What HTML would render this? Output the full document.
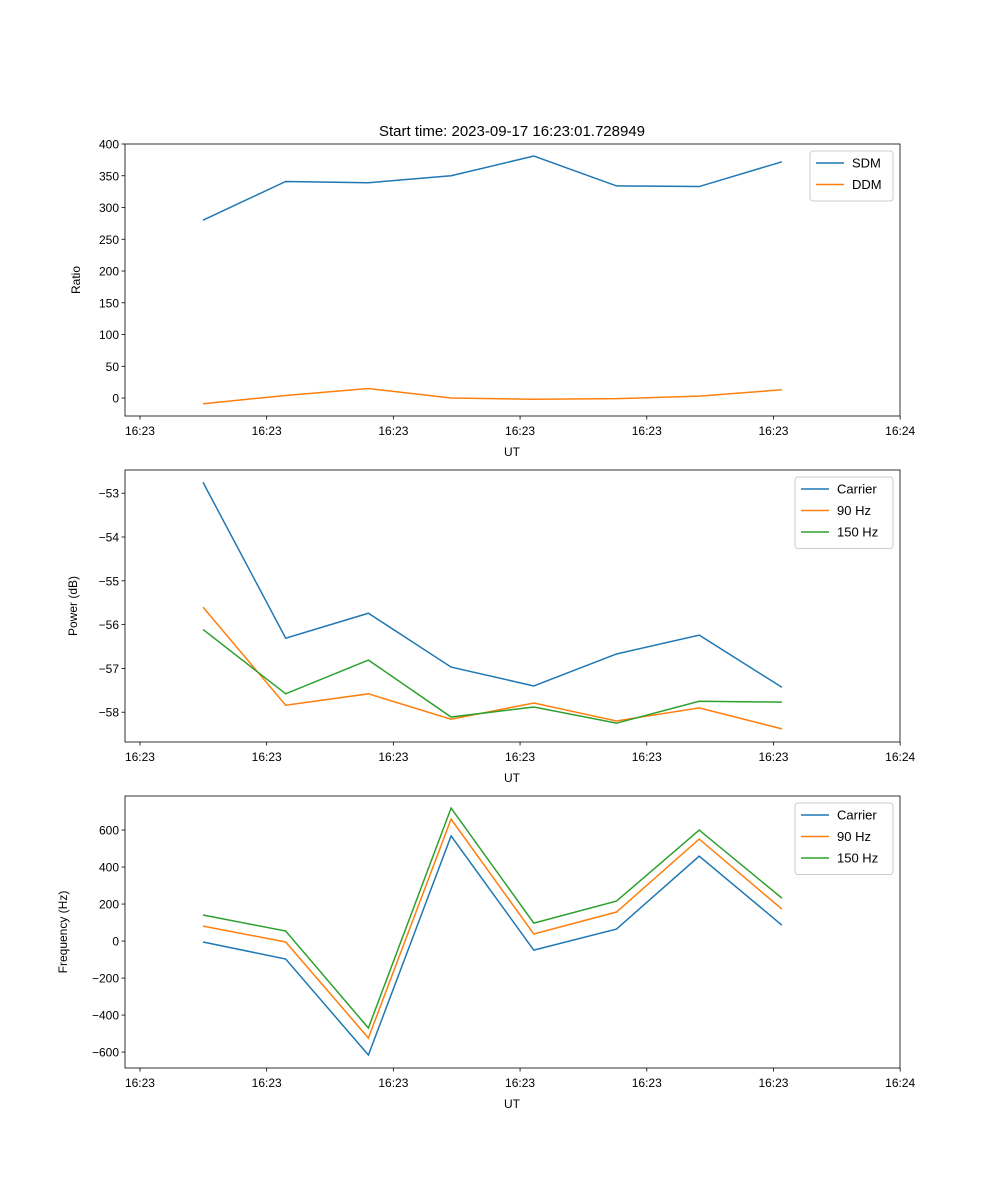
<!DOCTYPE html>
<html><head><meta charset="utf-8"><style>
body{margin:0;background:#fff;}
svg{display:block;font-family:"Liberation Sans","DejaVu Sans",sans-serif;}
</style></head><body>
<svg id="fig" width="1000" height="1200" xmlns="http://www.w3.org/2000/svg">
<rect width="1000" height="1200" fill="#fff"/>
<text x="512" y="136" text-anchor="middle" font-size="15">Start time: 2023-09-17 16:23:01.728949</text>
</svg>
<script>
const xTickVals = [-0.762, 0.770, 2.302, 3.834, 5.366, 6.898, 8.43];
const xTickLabels = ["16:23","16:23","16:23","16:23","16:23","16:23","16:24"];
const sdm = [280, 341, 339, 350, 381, 334, 333, 372];
const ddm = [-9, 4, 15, 0, -2, -1, 3, 13];
const powCarrier = [-52.75, -56.31, -55.74, -56.97, -57.40, -56.67, -56.24, -57.43];
const pow90 = [-55.60, -57.84, -57.58, -58.16, -57.79, -58.20, -57.90, -58.38];
const pow150 = [-56.11, -57.58, -56.81, -58.11, -57.88, -58.25, -57.75, -57.77];
const freqCarrier = [-5, -97, -616, 568, -49, 65, 459, 86];
const freq90 = [81, -5, -524, 659, 38, 157, 551, 173];
const freq150 = [141, 54, -470, 719, 97, 216, 600, 232];
const ratioTicks = [0,50,100,150,200,250,300,350,400];
const powTicks = [-58,-57,-56,-55,-54,-53];
const freqTicks = [-600,-400,-200,0,200,400,600];

const NS="http://www.w3.org/2000/svg";
const svg=document.getElementById('fig');
function mk(tag,attrs,parent){const e=document.createElementNS(NS,tag);for(const k in attrs)e.setAttribute(k,attrs[k]);(parent||svg).appendChild(e);return e;}
const L=125,R=900;
const xDom=[-0.943,8.428];
function xs(v){return L+(v-xDom[0])/(xDom[1]-xDom[0])*(R-L);}
const colors=["#1f77b4","#ff7f0e","#2ca02c"];

function panel(name,top,bottom,yDom,yTicks,yFmt,ylabel,series,names,legW){
  const g=mk('g',{});
  
  
  const ys=v=>bottom-(v-yDom[0])/(yDom[1]-yDom[0])*(bottom-top);
  series.forEach((s,i)=>{
    const p=mk('polyline',{points:s.map((v,j)=>xs(j)+','+ys(v)).join(' '),fill:'none',stroke:colors[i],'stroke-width':1.5},g);
    
    
  });
  mk('rect',{x:L,y:top,width:R-L,height:bottom-top,fill:'none',stroke:'#000','stroke-width':0.8},g);
  xTickVals.forEach((v,i)=>{
    const x=xs(v);
    mk('line',{x1:x,x2:x,y1:bottom,y2:bottom+3.5,stroke:'#000','stroke-width':0.8},g);
    const t=mk('text',{x:x,y:bottom+19,'text-anchor':'middle','font-size':12},g);
    t.textContent=xTickLabels[i];
    
    
  });
  const xl=mk('text',{x:512,y:bottom+40,'text-anchor':'middle','font-size':12},g);
  xl.textContent='UT';
  
  
  yTicks.forEach(v=>{
    const y=ys(v);
    mk('line',{x1:L-3.5,x2:L,y1:y,y2:y,stroke:'#000','stroke-width':0.8},g);
    const t=mk('text',{x:L-6,y:y+4.5,'text-anchor':'end','font-size':12},g);
    t.textContent=yFmt(v);
    
    
  });
  const yl=mk('text',{x:0,y:0,'text-anchor':'middle','font-size':12,transform:`translate(${ylabel[1]},${(top+bottom)/2}) rotate(-90)`},g);
  yl.textContent=ylabel[0];
  
  
  const lx=R-7-legW, ly=top+7, lh=names.length*21.5+7;
  const lg=mk('g',{},g);
  
  
  mk('rect',{x:lx,y:ly,width:legW,height:lh,rx:3,fill:'#fff','fill-opacity':0.8,stroke:'#ccc'},lg);
  names.forEach((n,i)=>{
    const yy=ly+12+i*21.5;
    mk('line',{x1:lx+6,x2:lx+34,y1:yy,y2:yy,stroke:colors[i],'stroke-width':1.5},lg);
    const t=mk('text',{x:lx+42,y:yy+4.5,'font-size':13},lg);
    t.textContent=n;
    
    
  });
}
const minus=v=>String(v).replace('-','\u2212');
panel('ratio',144,416,[-28.3,400],ratioTicks,minus,['Ratio',80],[sdm,ddm],['SDM','DDM'],83);
panel('power',470,742,[-58.68,-52.47],powTicks,minus,['Power (dB)',77],[powCarrier,pow90,pow150],['Carrier','90 Hz','150 Hz'],98);
panel('frequency',796,1068,[-686,784],freqTicks,minus,['Frequency (Hz)',67],[freqCarrier,freq90,freq150],['Carrier','90 Hz','150 Hz'],98);
</script>
</body></html>
